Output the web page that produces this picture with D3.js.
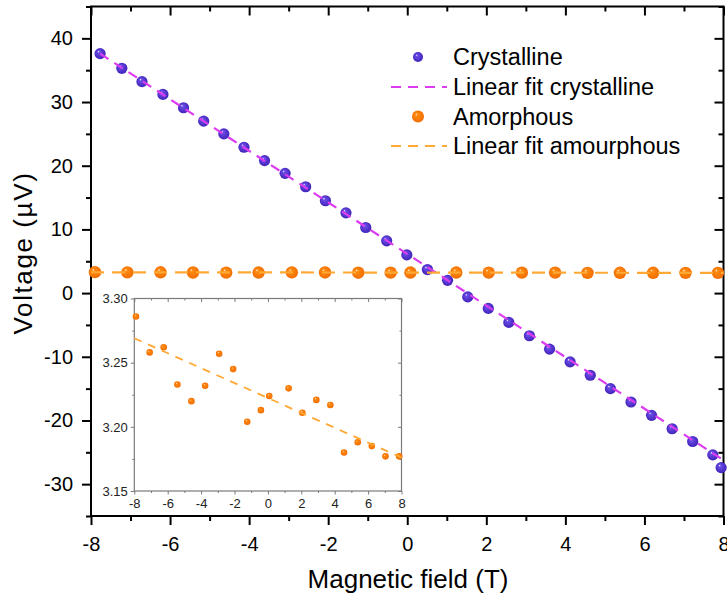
<!DOCTYPE html>
<html>
<head>
<meta charset="utf-8">
<script src="https://cdnjs.cloudflare.com/ajax/libs/d3/7.8.5/d3.min.js"></script>
<style>
body { margin: 0; background: #fff; }
svg { display: block; font-family: "Liberation Sans", Arial, sans-serif; }
.domain { display: none; }
</style>
</head>
<body>
<div id="chart"></div>
<script>
// crystalline sample
var crystalField = [-7.77, -7.22, -6.71, -6.18, -5.66, -5.15, -4.64, -4.13, -3.61, -3.09, -2.57, -2.07, -1.55, -1.05, -0.52, -0.01,
                    0.51, 1.02, 1.53, 2.05, 2.57, 3.09, 3.60, 4.12, 4.63, 5.14, 5.66, 6.18, 6.70, 7.22, 7.73, 7.94];
var crystalVoltage = [37.6, 35.3, 33.2, 31.2, 29.1, 27.0, 25.0, 22.9, 20.8, 18.8, 16.7, 14.5, 12.6, 10.3, 8.2, 6.0,
                      3.7, 2.0, -0.6, -2.4, -4.6, -6.7, -8.8, -10.8, -12.9, -15.0, -17.1, -19.2, -21.3, -23.3, -25.4, -27.4];
var crystalFitField = [-7.77, 7.94];
var crystalFitVoltage = [37.6, -26.0];

// amorphous sample
var amorphField = [-7.9, -7.08, -6.24, -5.42, -4.58, -3.76, -2.92, -2.08, -1.24, -0.42,
                   0.08, 1.24, 2.06, 2.90, 3.74, 4.56, 5.38, 6.22, 7.04, 7.86];
var amorphVoltage = [3.286, 3.258, 3.262, 3.233, 3.220, 3.232, 3.257, 3.245, 3.204, 3.213,
                     3.224, 3.230, 3.211, 3.221, 3.217, 3.180, 3.188, 3.185, 3.177, 3.177];
var amorphFitField = [-8, 8];
var amorphFitVoltage = [3.269, 3.176];

var xTicks = [-8, -6, -4, -2, 0, 2, 4, 6, 8];
var yTicks = [-30, -20, -10, 0, 10, 20, 30, 40];
var insetYTicks = [3.15, 3.20, 3.25, 3.30];

var legendLabels = ["Crystalline", "Linear fit crystalline", "Amorphous", "Linear fit amourphous"];

var W = 727, H = 598;
var magenta = "#dc3cf0", orangeFit = "#ffa833";
var FONT = "'Liberation Sans', Arial, sans-serif";

var svg = d3.select("#chart").append("svg").attr("width", W).attr("height", H);

// ball-shaded markers
var defs = svg.append("defs");
function ball(id, base, dark) {
    var g = defs.append("radialGradient").attr("id", id)
        .attr("cx", "50%").attr("cy", "50%").attr("r", "55%")
        .attr("fx", "35%").attr("fy", "30%");
    g.append("stop").attr("offset", "0%").attr("stop-color", "#ffffff");
    g.append("stop").attr("offset", "18%").attr("stop-color", base);
    g.append("stop").attr("offset", "100%").attr("stop-color", dark);
}
ball("ballPurple", "#6a4ee6", "#3e1fb8");
ball("ballOrange", "#ff8c10", "#f06a00");

var x = d3.scaleLinear().domain([-8, 8]).range([91, 723.5]);
var y = d3.scaleLinear().domain([-35, 45]).range([516, 6.5]);
var plain = d => String(d);

var main = svg.append("g");

function tickGroup(parent, axis, tx, ty, color, width) {
    var g = parent.append("g").attr("transform", "translate(" + tx + "," + ty + ")").call(axis);
    g.selectAll("line").attr("stroke", color).attr("stroke-width", width);
    g.attr("font-family", FONT);
    return g;
}

var xMinor = d3.range(-7, 8, 2);
var yMinor = d3.range(-35, 46, 10);

// main axes: bottom/left outward, top/right inward
var bx = tickGroup(main, d3.axisBottom(x).tickValues(xTicks).tickFormat(plain).tickSize(9).tickPadding(12).tickSizeOuter(0), 0, 516, "#000", 2);
bx.selectAll("text").attr("font-size", 20).attr("fill", "#000");
tickGroup(main, d3.axisBottom(x).tickValues(xMinor).tickSize(5).tickFormat("").tickSizeOuter(0), 0, 516, "#000", 2);
tickGroup(main, d3.axisTop(x).tickValues(xTicks).tickSize(-9).tickFormat("").tickSizeOuter(0), 0, 6.5, "#000", 2);
tickGroup(main, d3.axisTop(x).tickValues(xMinor).tickSize(-5).tickFormat("").tickSizeOuter(0), 0, 6.5, "#000", 2);

var ly = tickGroup(main, d3.axisLeft(y).tickValues(yTicks).tickFormat(plain).tickSize(9).tickPadding(9).tickSizeOuter(0), 91, 0, "#000", 2);
ly.selectAll("text").attr("font-size", 20).attr("fill", "#000");
tickGroup(main, d3.axisLeft(y).tickValues(yMinor).tickSize(5).tickFormat("").tickSizeOuter(0), 91, 0, "#000", 2);
tickGroup(main, d3.axisRight(y).tickValues(yTicks).tickSize(-9).tickFormat("").tickSizeOuter(0), 723.5, 0, "#000", 2);
tickGroup(main, d3.axisRight(y).tickValues(yMinor).tickSize(-5).tickFormat("").tickSizeOuter(0), 723.5, 0, "#000", 2);

main.append("rect")
    .attr("x", x(-8)).attr("y", y(45))
    .attr("width", x(8) - x(-8)).attr("height", y(-35) - y(45))
    .attr("fill", "none").attr("stroke", "#000").attr("stroke-width", 2);

// titles
svg.append("text").attr("x", 408).attr("y", 588).attr("text-anchor", "middle")
    .attr("font-size", 26).text("Magnetic field (T)");
svg.append("text").attr("transform", "translate(32,253) rotate(-90)").attr("text-anchor", "middle")
    .attr("font-size", 26).attr("letter-spacing", 1.6).text("Voltage (\u00b5V)");

var line = d3.line().x(d => x(d[0])).y(d => y(d[1]));
var crystal = d3.zip(crystalField, crystalVoltage);
var amorph = d3.zip(amorphField, amorphVoltage);

// points
main.selectAll(".pc").data(crystal).enter().append("circle")
    .attr("cx", d => x(d[0])).attr("cy", d => y(d[1])).attr("r", 5.6)
    .attr("fill", "url(#ballPurple)");
main.selectAll(".pa").data(amorph).enter().append("circle")
    .attr("cx", d => x(d[0])).attr("cy", d => y(d[1])).attr("r", 6.2)
    .attr("fill", "url(#ballOrange)");

// fits
main.append("path").datum(d3.zip(crystalFitField, crystalFitVoltage)).attr("d", line)
    .attr("fill", "none").attr("stroke", magenta).attr("stroke-width", 2.2).attr("stroke-dasharray", "10,7");
main.append("path").datum(d3.zip(amorphFitField, amorphFitVoltage)).attr("d", line)
    .attr("fill", "none").attr("stroke", orangeFit).attr("stroke-width", 2.2).attr("stroke-dasharray", "13,8");

// legend
var leg = svg.append("g");
var rows = [57, 87, 116.5, 146];
leg.selectAll("text").data(legendLabels).enter().append("text")
    .attr("x", 453).attr("y", (d, i) => rows[i]).attr("dy", "0.35em")
    .attr("font-size", 23.5).attr("fill", "#000").text(d => d);
leg.append("circle").attr("cx", 418).attr("cy", rows[0]).attr("r", 5).attr("fill", "url(#ballPurple)");
leg.append("circle").attr("cx", 418).attr("cy", rows[2]).attr("r", 6).attr("fill", "url(#ballOrange)");
leg.append("line").attr("x1", 391).attr("x2", 447).attr("y1", rows[1]).attr("y2", rows[1])
    .attr("stroke", magenta).attr("stroke-width", 2.2).attr("stroke-dasharray", "10,7");
leg.append("line").attr("x1", 391).attr("x2", 447).attr("y1", rows[3]).attr("y2", rows[3])
    .attr("stroke", orangeFit).attr("stroke-width", 2.2).attr("stroke-dasharray", "10,7");

// inset
var ix = d3.scaleLinear().domain([-8, 8]).range([134.3, 401.5]);
var iy = d3.scaleLinear().domain([3.15, 3.30]).range([491, 298.5]);
var inset = svg.append("g");
inset.append("rect").attr("x", 98).attr("y", 290).attr("width", 312).attr("height", 222).attr("fill", "#fff");

var ixMinor = d3.range(-7, 8, 2);
var iyMinor = [3.175, 3.225, 3.275];
var grey = "#7a7a7a";
var ibx = tickGroup(inset, d3.axisBottom(ix).tickValues(xTicks).tickFormat(plain).tickSize(3.5).tickPadding(4).tickSizeOuter(0), 0, 491, grey, 1);
ibx.selectAll("text").attr("font-size", 13).attr("fill", "#222");
tickGroup(inset, d3.axisBottom(ix).tickValues(ixMinor).tickSize(2).tickFormat("").tickSizeOuter(0), 0, 491, grey, 1);
tickGroup(inset, d3.axisTop(ix).tickValues(xTicks).tickSize(-3.5).tickFormat("").tickSizeOuter(0), 0, 298.5, grey, 1);
tickGroup(inset, d3.axisTop(ix).tickValues(ixMinor).tickSize(-2).tickFormat("").tickSizeOuter(0), 0, 298.5, grey, 1);
var ily = tickGroup(inset, d3.axisLeft(iy).tickValues(insetYTicks).tickFormat(d3.format(".2f")).tickSize(3.5).tickPadding(3).tickSizeOuter(0), 134.3, 0, grey, 1);
ily.selectAll("text").attr("font-size", 13).attr("fill", "#222");
tickGroup(inset, d3.axisLeft(iy).tickValues(iyMinor).tickSize(2).tickFormat("").tickSizeOuter(0), 134.3, 0, grey, 1);
tickGroup(inset, d3.axisRight(iy).tickValues(insetYTicks).tickSize(-3.5).tickFormat("").tickSizeOuter(0), 401.5, 0, grey, 1);
tickGroup(inset, d3.axisRight(iy).tickValues(iyMinor).tickSize(-2).tickFormat("").tickSizeOuter(0), 401.5, 0, grey, 1);

inset.append("rect").attr("x", ix(-8)).attr("y", iy(3.30))
    .attr("width", ix(8) - ix(-8)).attr("height", iy(3.15) - iy(3.30))
    .attr("fill", "none").attr("stroke", grey).attr("stroke-width", 1.2);

var iline = d3.line().x(d => ix(d[0])).y(d => iy(d[1]));
inset.selectAll(".ip").data(amorph).enter().append("circle")
    .attr("cx", d => ix(d[0])).attr("cy", d => iy(d[1])).attr("r", 3.3)
    .attr("fill", "url(#ballOrange)");
inset.append("path").datum(d3.zip(amorphFitField, amorphFitVoltage)).attr("d", iline)
    .attr("fill", "none").attr("stroke", orangeFit).attr("stroke-width", 1.8).attr("stroke-dasharray", "8,7");
</script>
</body>
</html>
